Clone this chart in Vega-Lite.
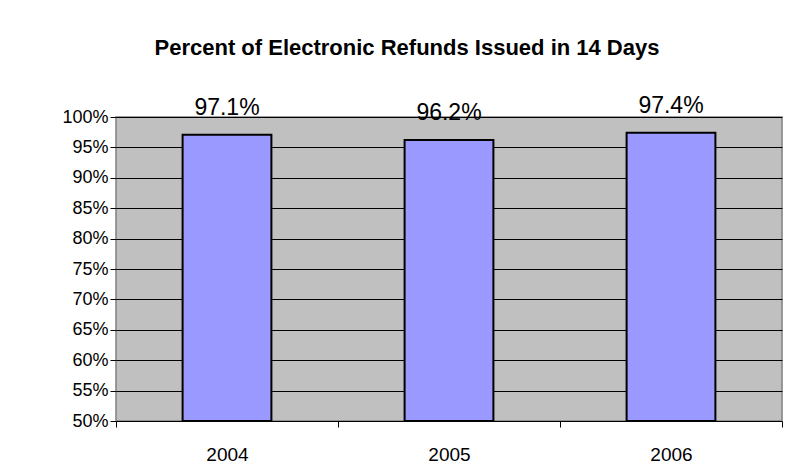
{
  "$schema": "https://vega.github.io/schema/vega-lite/v6.json",
  "width": 666,
  "height": 304,
  "autosize": "none",
  "padding": {"left": 116, "top": 117, "right": 22, "bottom": 48},
  "background": "white",
  "title": {
    "text": "Percent of Electronic Refunds Issued in 14 Days",
    "font": "Liberation Sans",
    "fontSize": 22,
    "fontWeight": "bold",
    "color": "black",
    "anchor": "middle",
    "dx": -42,
    "offset": 35
  },
  "config": {
    "font": "Liberation Sans",
    "view": {"fill": "#C0C0C0", "stroke": "#808080", "strokeWidth": 1.5}
  },
  "data": {
    "values": [
      {"year": "2004", "pct": 0.971},
      {"year": "2005", "pct": 0.962},
      {"year": "2006", "pct": 0.974}
    ]
  },
  "encoding": {
    "x": {
      "field": "year",
      "type": "ordinal",
      "scale": {"paddingInner": 0, "paddingOuter": 0},
      "axis": {
        "title": null,
        "labelAngle": 0,
        "tickBand": "extent",
        "tickColor": "black",
        "tickSize": 6,
        "domain": false,
        "labelFont": "Liberation Sans",
        "labelFontSize": 19,
        "labelColor": "black",
        "labelPadding": 18
      }
    },
    "y": {
      "field": "pct",
      "type": "quantitative",
      "scale": {"domain": [0.5, 1], "zero": false, "nice": false},
      "axis": {
        "title": null,
        "values": [0.5, 0.55, 0.6, 0.65, 0.7, 0.75, 0.8, 0.85, 0.9, 0.95, 1.0],
        "format": ".0%",
        "grid": true,
        "gridColor": "black",
        "gridOpacity": 1,
        "gridWidth": 1,
        "tickColor": "black",
        "tickSize": 6,
        "domain": false,
        "labelFont": "Liberation Sans",
        "labelFontSize": 18,
        "labelColor": "black",
        "labelPadding": 2
      }
    }
  },
  "layer": [
    {
      "mark": {"type": "bar", "width": {"band": 0.4}, "fill": "#9999FF", "stroke": "black", "strokeWidth": 2},
      "encoding": {"y2": {"datum": 0.5}}
    },
    {
      "mark": {"type": "text", "baseline": "alphabetic", "dy": -20, "fontSize": 23, "font": "Liberation Sans", "color": "black"},
      "encoding": {"text": {"field": "pct", "type": "quantitative", "format": ".1%"}}
    }
  ]
}
